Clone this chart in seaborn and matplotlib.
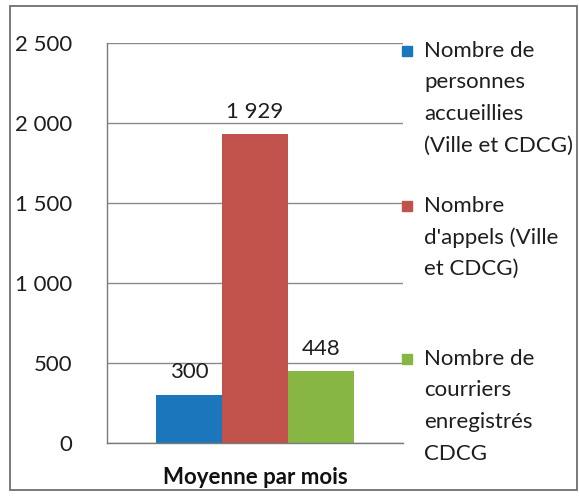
import pandas as pd
import matplotlib
matplotlib.use("Agg")
import matplotlib.pyplot as plt
import matplotlib.patches as mpatches
import seaborn as sns

# data
category = ["Moyenne par mois"]
series = ["Nombre de\npersonnes\naccueillies\n(Ville et CDCG)",
          "Nombre\nd'appels (Ville\net CDCG)",
          "Nombre de\ncourriers\nenregistrés\nCDCG"]
values = [300, 1929, 448]
colors = ["#1b76bc", "#c0524b", "#87b644"]
yticks = [0, 500, 1000, 1500, 2000, 2500]
ytick_labels = ["0", "500", "1 000", "1 500", "2 000", "2 500"]

df = pd.DataFrame({"periode": category * len(series), "serie": series, "valeur": values})

sns.set_style("white")
plt.rcParams['font.family'] = ['Lato', 'DejaVu Sans']

W, H = 579, 496
fig = plt.figure(figsize=(W / 100, H / 100), dpi=100)
ax = fig.add_axes([107 / W, 1 - 443 / H, (403 - 107) / W, 400 / H])

sns.barplot(data=df, x="periode", y="valeur", hue="serie", palette=colors,
            width=0.667, gap=0, saturation=1, legend=False, ax=ax,
            linewidth=0, edgecolor="none")

ax.set_ylim(0, 2500)
ax.set_xlim(-0.5, 0.5)
ax.set_yticks(yticks)
ax.set_yticklabels(ytick_labels)
ax.yaxis.grid(True, color="#8a8a8a", lw=1.0)
ax.set_axisbelow(True)
ax.set_xlabel("")
ax.set_ylabel("")

for s in ["top", "right"]:
    ax.spines[s].set_visible(False)
for s in ["left", "bottom"]:
    ax.spines[s].set_color("#7a7a7a")
    ax.spines[s].set_linewidth(1.0)

fs = 16
ax.tick_params(axis="y", length=5, width=1, color="#8a8a8a", direction="out",
               pad=20, labelsize=fs, labelcolor="#1e1e1e")
ax.tick_params(axis="x", which="major", length=0, pad=17, labelsize=fs, labelcolor="#111111")
ax.set_xticks([-0.5, 0.5], minor=True)
ax.tick_params(axis="x", which="minor", length=4, width=1, color="#7a7a7a", direction="out")
plt.setp(ax.get_xticklabels(), fontweight="bold")

for cont in ax.containers:
    ax.bar_label(cont, labels=[f"{v:,.0f}".replace(",", " ") for v in cont.datavalues],
                 padding=9, fontsize=fs, color="#1e1e1e")

# legend drawn by hand, Excel style (marker next to first line)
first_baselines = [57, 212, 365]
line_step = 31.5
for lab, col, yb in zip(series, colors, first_baselines):
    for i, line in enumerate(lab.split("\n")):
        fig.text(424 / W, 1 - (yb + i * line_step) / H, line, fontsize=fs,
                 color="#1e1e1e", ha="left", va="baseline")
    fig.patches.append(mpatches.Rectangle((402 / W, 1 - (yb - 1) / H), 10 / W, 10 / H,
                                          transform=fig.transFigure, color=col))

# outer frame
fig.patches.append(mpatches.Rectangle((10 / W, 1 - 490 / H), 567 / W, 484 / H, fill=False,
                                      edgecolor="#6e6e6e", lw=1.3, transform=fig.transFigure))

fig.savefig("out.png", dpi=100)
